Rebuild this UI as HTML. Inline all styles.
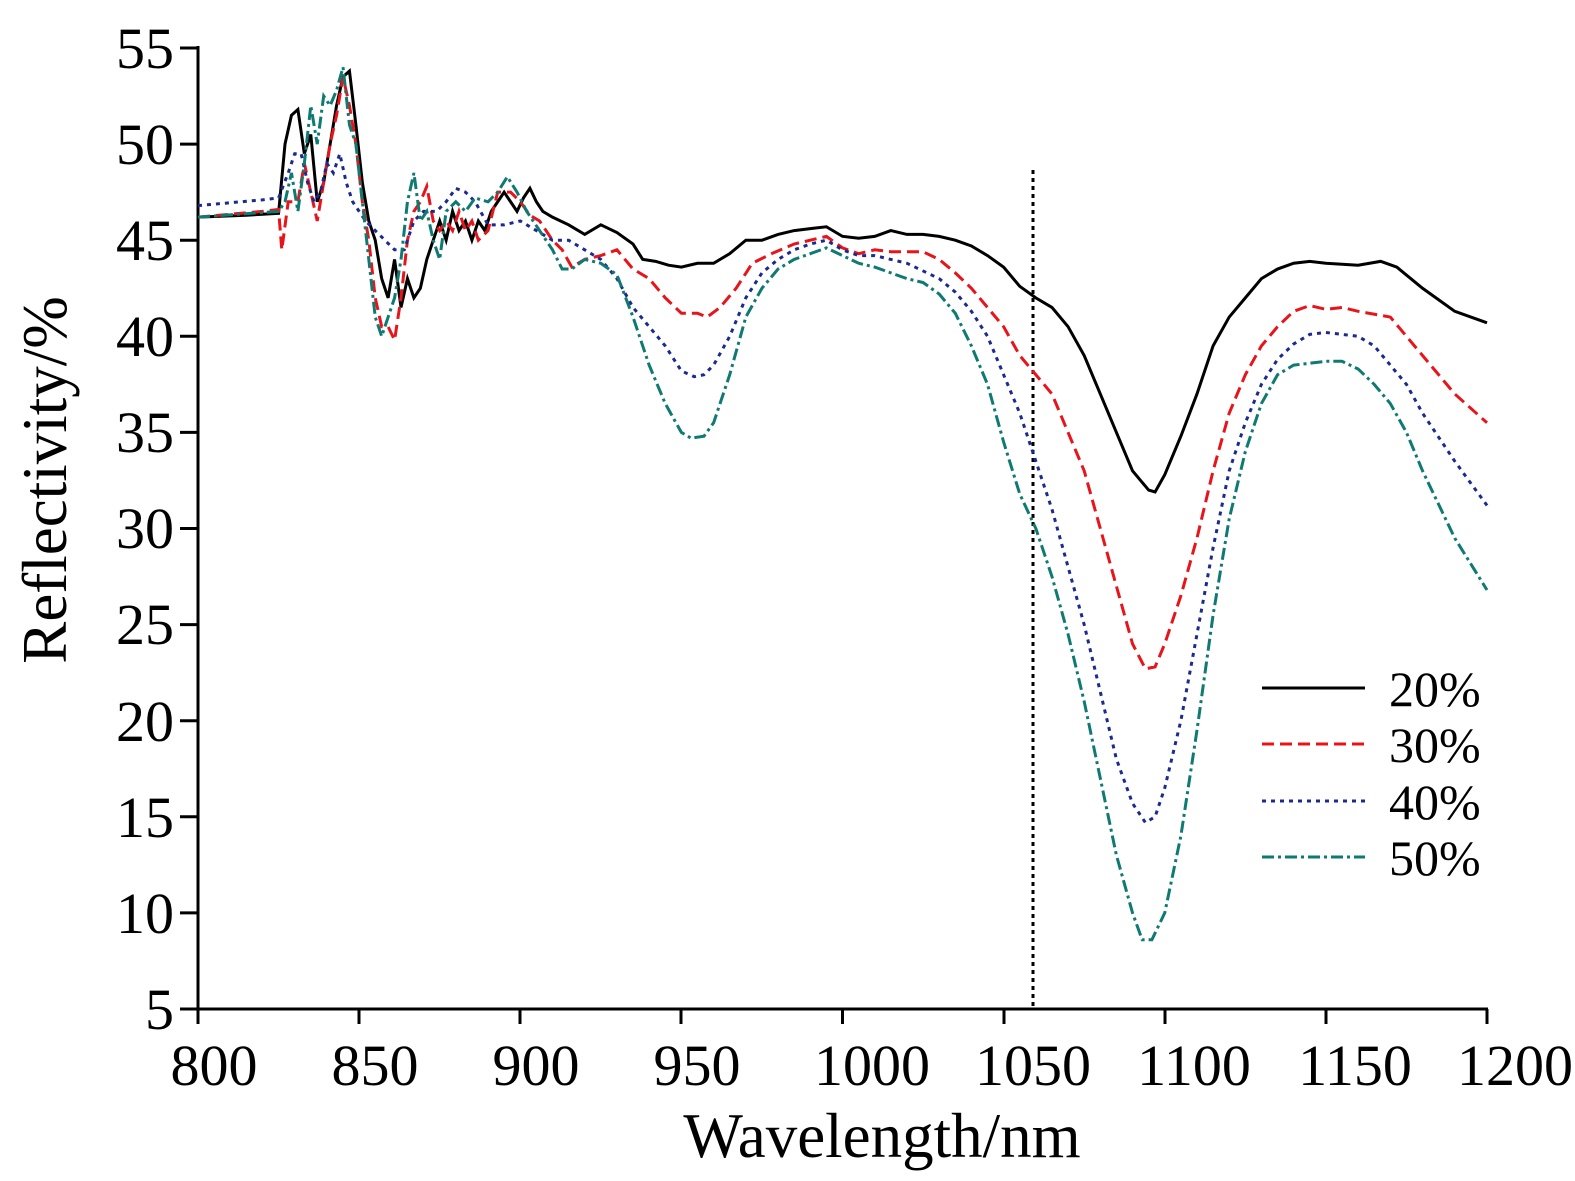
<!DOCTYPE html>
<html><head><meta charset="utf-8"><style>
html,body{margin:0;padding:0;background:#fff;overflow:hidden;width:1575px;height:1181px}
svg{display:block}
svg text{font-family:"Liberation Serif",serif;fill:#000}
</style></head><body>
<svg width="1575" height="1181" viewBox="0 0 1575 1181" xmlns="http://www.w3.org/2000/svg">
<g stroke="#000" stroke-width="3" fill="none">
<line x1="198" y1="46" x2="198" y2="1009"/>
<line x1="196" y1="1009" x2="1488" y2="1009"/>
<line x1="180" y1="48" x2="198" y2="48"/><line x1="180" y1="144.1" x2="198" y2="144.1"/>
<line x1="180" y1="240.2" x2="198" y2="240.2"/><line x1="180" y1="336.3" x2="198" y2="336.3"/>
<line x1="180" y1="432.4" x2="198" y2="432.4"/><line x1="180" y1="528.5" x2="198" y2="528.5"/>
<line x1="180" y1="624.6" x2="198" y2="624.6"/><line x1="180" y1="720.7" x2="198" y2="720.7"/>
<line x1="180" y1="816.8" x2="198" y2="816.8"/><line x1="180" y1="912.9" x2="198" y2="912.9"/>
<line x1="180" y1="1009" x2="198" y2="1009"/>
<line x1="198" y1="1009" x2="198" y2="1024"/><line x1="359" y1="1009" x2="359" y2="1024"/>
<line x1="520" y1="1009" x2="520" y2="1024"/><line x1="681" y1="1009" x2="681" y2="1024"/>
<line x1="842.5" y1="1009" x2="842.5" y2="1024"/><line x1="1004" y1="1009" x2="1004" y2="1024"/>
<line x1="1165" y1="1009" x2="1165" y2="1024"/><line x1="1326" y1="1009" x2="1326" y2="1024"/>
<line x1="1487" y1="1009" x2="1487" y2="1024"/>
</g>
<g font-size="58" text-anchor="end">
<text x="174" y="68">55</text><text x="174" y="164">50</text><text x="174" y="260">45</text>
<text x="174" y="356">40</text><text x="174" y="452">35</text><text x="174" y="548">30</text>
<text x="174" y="644">25</text><text x="174" y="741">20</text><text x="174" y="837">15</text>
<text x="174" y="933">10</text><text x="174" y="1029">5</text>
</g>
<g font-size="58" text-anchor="middle">
<text x="214" y="1085">800</text><text x="375" y="1085">850</text><text x="536" y="1085">900</text>
<text x="697" y="1085">950</text><text x="872" y="1085">1000</text><text x="1033" y="1085">1050</text>
<text x="1194" y="1085">1100</text><text x="1355" y="1085">1150</text><text x="1515" y="1085">1200</text>
</g>
<text x="882" y="1157" font-size="63" text-anchor="middle">Wavelength/nm</text>
<text transform="translate(66,480) rotate(-90)" font-size="63" text-anchor="middle">Reflectivity/%</text>
<line x1="1033" y1="170" x2="1033" y2="1009" stroke="#000" stroke-width="3" stroke-dasharray="4,4"/>
<g transform="matrix(3.2225,0,0,-19.22,-2380,1105.1)" fill="none" stroke-width="3">
<polyline vector-effect="non-scaling-stroke" stroke="#000" points="800,46.2 815,46.3 825,46.4 827,50 829,51.5 831,51.8 833,49.5 835,50.5 837,47 839,48 841,50 843,52 845,53.5 847,53.8 849,51 851,48 853,46 855,45 857,43 859,42 861,44 863,41.5 865,43 867,42 869,42.5 871,44 873,45 875,46 877,45 879,46.5 881,45.5 883,46 885,45 887,46 889,45.5 891,46.5 893,47 895,47.5 897,47 899,46.5 901,47.2 903,47.7 905,47 907,46.5 910,46.2 915,45.8 920,45.3 925,45.8 930,45.4 935,44.8 938,44 942,43.9 946,43.7 950,43.6 955,43.8 960,43.8 965,44.3 970,45 975,45 980,45.3 985,45.5 990,45.6 995,45.7 1000,45.2 1005,45.1 1010,45.2 1015,45.5 1020,45.3 1025,45.3 1030,45.2 1035,45 1040,44.7 1045,44.2 1050,43.6 1055,42.6 1060,42 1065,41.5 1070,40.5 1075,39 1080,37 1085,35 1090,33 1095,32 1097,31.9 1100,32.8 1105,34.8 1110,37 1115,39.5 1120,41 1125,42 1130,43 1135,43.5 1140,43.8 1145,43.9 1150,43.8 1160,43.7 1167,43.9 1172,43.6 1180,42.5 1190,41.3 1200,40.7"/>
<polyline vector-effect="non-scaling-stroke" stroke="#e8141b" stroke-dasharray="12,6" points="800,46.2 820,46.5 825,46.6 826,44.5 828,47 831,47 833,49 835,47.5 837,46 839,48 841,50 843,51.5 845,53.5 847,52 849,50 851,47 853,45 855,42 857,40.5 859,40.5 861,39.8 863,42 865,45 867,46.5 869,47 871,47.8 873,46 875,45.5 877,46 879,45.5 881,46.5 883,45.5 885,46 887,45 890,45.5 893,47.5 897,47.5 900,47 903,46.3 906,46 910,45 913,44.5 916,43.6 920,44 925,44.2 930,44.5 935,43.5 940,43 945,42 950,41.2 955,41.2 958,41 962,41.5 967,42.5 972,43.8 978,44.3 985,44.8 990,45 995,45.2 1000,44.6 1005,44.3 1010,44.5 1015,44.4 1020,44.4 1025,44.4 1030,44 1035,43.3 1040,42.5 1045,41.5 1050,40.5 1055,39 1060,38 1065,37 1070,35 1075,33 1080,30 1085,27 1090,24 1094,22.7 1097,22.8 1100,24 1105,26.5 1110,29.5 1115,33 1120,36 1125,38 1130,39.5 1135,40.5 1140,41.3 1145,41.6 1150,41.4 1155,41.5 1160,41.3 1170,41 1175,40 1180,39 1190,37 1200,35.5"/>
<polyline vector-effect="non-scaling-stroke" stroke="#1c2a8f" stroke-dasharray="4,5" points="800,46.8 820,47.1 825,47.2 828,48.5 830,49.5 832,49.5 834,48 836,47 838,47.5 840,49 842,48.5 844,49.5 846,48 848,47 850,46.5 852,46 855,45.5 858,45 861,44.5 864,44.5 867,46 870,46.5 874,46.5 877,47 880,47.7 883,47.5 886,47 890,45.8 895,45.8 900,46 905,45.5 910,45 915,45 920,44.5 925,44 930,43 935,41.5 940,40.5 945,39.5 950,38.2 954,37.9 957,38 960,38.5 965,40 970,42 975,43.3 980,44 985,44.5 990,44.8 995,45 1000,44.5 1005,44.2 1010,44.2 1015,44 1020,43.8 1025,43.4 1030,43 1035,42.3 1040,41.3 1045,40 1050,38 1055,36 1060,33.5 1065,31 1070,28 1075,25 1080,21.5 1085,18 1090,15.7 1094,14.7 1097,15 1100,16.5 1105,20 1110,24.5 1115,29 1120,33 1125,35.5 1130,37.5 1135,38.8 1140,39.6 1145,40.1 1150,40.2 1160,40 1165,39.5 1170,38.5 1175,37.5 1180,36 1190,33.5 1200,31.2"/>
<polyline vector-effect="non-scaling-stroke" stroke="#0e7a72" stroke-dasharray="12,4,3,4" points="800,46.2 825,46.5 827,47 829,48.5 831,46.5 833,49 835,52 837,50 839,52.5 841,52 843,52.8 845,54 847,51 849,50 851,47 853,44 855,41 857,40 859,41 861,42 863,44 865,47 867,48.5 869,46 871,46.5 873,45 875,44 877,46.5 880,47 883,46.5 886,47.2 890,47 893,47.5 896,48.3 899,47.5 902,46.5 906,45.5 910,44.5 913,43.5 916,43.5 920,44 925,43.8 930,43.2 935,41 940,38.5 945,36.5 950,35 953,34.7 957,34.8 960,35.5 965,38 970,41 975,42.5 980,43.5 985,44 990,44.3 995,44.6 1000,44.2 1005,43.8 1010,43.6 1015,43.3 1020,43 1025,42.8 1030,42.2 1035,41.2 1040,39.5 1045,37.5 1050,34.5 1055,31.8 1060,30 1065,27.5 1070,24.5 1075,21 1080,17 1085,13 1090,10 1093,8.6 1096,8.6 1100,10 1105,14 1110,19.5 1115,25.5 1120,30.5 1125,34 1130,36.5 1135,38 1140,38.5 1145,38.6 1150,38.7 1155,38.7 1160,38.3 1165,37.5 1170,36.5 1175,35 1180,33 1190,29.5 1200,26.8"/>
</g>
<g stroke-width="3">
<line x1="1262" y1="688" x2="1365" y2="688" stroke="#000"/>
<line x1="1262" y1="744" x2="1365" y2="744" stroke="#e8141b" stroke-dasharray="12,6"/>
<line x1="1262" y1="801" x2="1365" y2="801" stroke="#1c2a8f" stroke-dasharray="4,5"/>
<line x1="1262" y1="857" x2="1365" y2="857" stroke="#0e7a72" stroke-dasharray="12,4,3,4"/>
</g>
<g font-size="50">
<text x="1389" y="706">20%</text><text x="1389" y="762">30%</text>
<text x="1389" y="819">40%</text><text x="1389" y="875">50%</text>
</g>
</svg>
</body></html>
